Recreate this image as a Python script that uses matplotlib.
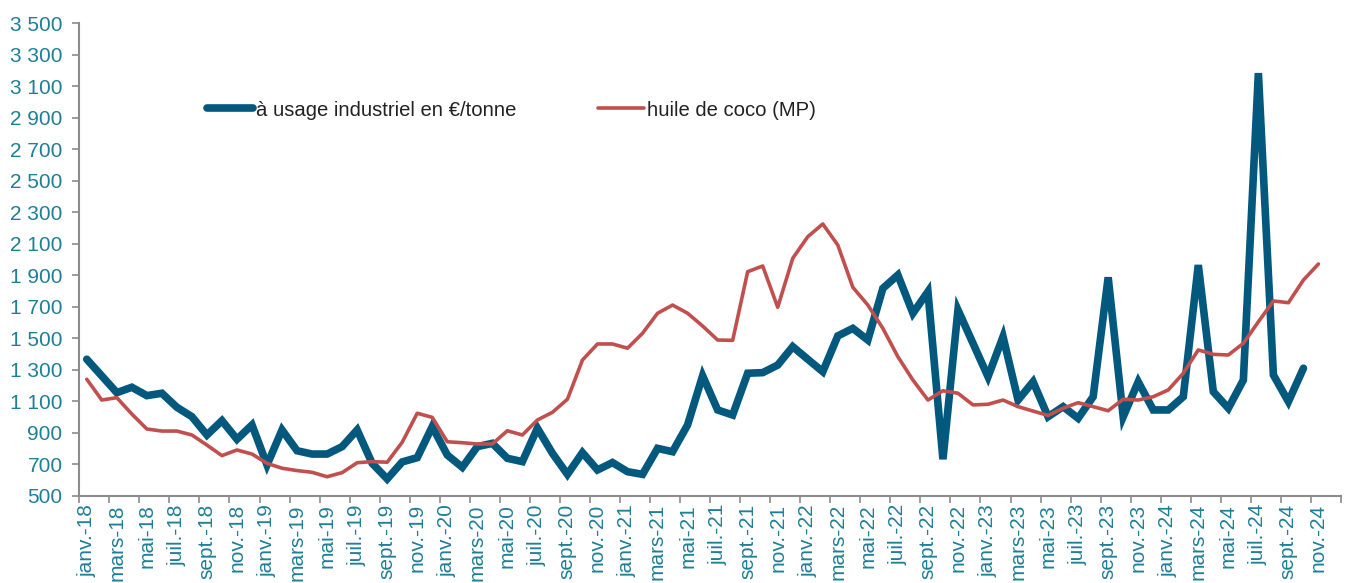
import matplotlib.pyplot as plt
import numpy as np

plt.rcParams['font.family'] = ['Liberation Sans', 'DejaVu Sans']

# mois janv.-18 -> déc.-24
mois_fr = ['janv.', 'févr.', 'mars', 'avr.', 'mai', 'juin',
           'juil.', 'août', 'sept.', 'oct.', 'nov.', 'déc.']
annees = ['18', '19', '20', '21', '22', '23', '24']
categories = [m + '-' + a for a in annees for m in mois_fr]

# à usage industriel en €/tonne (janv.-18 -> oct.-24)
industriel = [1367, 1261, 1155, 1189, 1136, 1151, 1062, 1002, 886, 977,
              859, 950, 696, 918, 786, 765, 765, 812, 918, 706,
              607, 715, 742, 939, 759, 681, 812, 833, 738, 717,
              929, 770, 636, 774, 664, 711, 653, 636, 801, 780,
              950, 1262, 1045, 1013, 1278, 1282, 1330, 1447, 1367, 1288,
              1515, 1563, 1489, 1817, 1902, 1659, 1796, 732, 1680, 1468,
              1256, 1510, 1108, 1224, 1002, 1066, 992, 1129, 1887, 1002,
              1224, 1045, 1045, 1129, 1965, 1161, 1056, 1235, 3184, 1267,
              1098, 1310]

# huile de coco (MP) (janv.-18 -> nov.-24)
coco = [1240, 1108, 1123, 1019, 924, 911, 911, 886, 822, 755,
        791, 765, 706, 675, 660, 649, 621, 647, 710, 717,
        713, 840, 1024, 998, 843, 837, 829, 829, 913, 886,
        981, 1030, 1113, 1362, 1464, 1464, 1437, 1532, 1659, 1711,
        1659, 1578, 1489, 1487, 1923, 1959, 1697, 2008, 2145, 2226,
        2092, 1824, 1711, 1563, 1383, 1235, 1108, 1167, 1151, 1077,
        1081, 1108, 1066, 1038, 1010, 1056, 1091, 1066, 1040, 1113,
        1108, 1129, 1172, 1278, 1426, 1398, 1394, 1468, 1605, 1737,
        1726, 1870, 1972]

bleu = '#03587e'
rouge = '#c0504d'
teal = '#1f7f95'
gris = '#8c8c8c'

fig = plt.figure(figsize=(13.48, 5.83), dpi=100)
ax = fig.add_axes([0.0588, 0.1496, 0.936, 0.8104])

ax.plot(np.arange(len(industriel)), industriel, color=bleu, lw=5.5,
        solid_joinstyle='miter', solid_capstyle='round',
        label='à usage industriel en €/tonne')
ax.plot(np.arange(len(coco)), coco, color=rouge, lw=2.6,
        solid_capstyle='round', label='huile de coco (MP)')

ax.set_xlim(-0.5, len(categories) - 0.5)
ax.set_ylim(500, 3500)

yt = np.arange(500, 3501, 200)
ax.set_yticks(yt)
ax.set_yticklabels(['{:,}'.format(v).replace(',', ' ') for v in yt])

pos = np.arange(0, len(categories), 2)
ax.set_xticks(pos)
ax.set_xticklabels([categories[i] for i in pos], rotation=90, va='top')
ax.set_xticks(np.arange(-0.5, len(categories), 2), minor=True)
ax.tick_params(axis='x', which='major', length=0, pad=6,
               labelsize=15, labelcolor=teal)
ax.tick_params(axis='x', which='minor', length=5, color=gris, width=1.2)
ax.tick_params(axis='y', length=5, color=gris, width=1.2, pad=7,
               labelsize=15, labelcolor=teal)

for s in ['top', 'right']:
    ax.spines[s].set_visible(False)
for s in ['left', 'bottom']:
    ax.spines[s].set_color(gris)
    ax.spines[s].set_linewidth(1.5)

leg = ax.legend(loc='center left', bbox_to_anchor=(0.0865, 0.8165), ncol=2,
                frameon=False, fontsize=14.6, handlelength=2.3,
                handletextpad=0.15, columnspacing=4.0)
for t in leg.get_texts():
    t.set_color('#222222')

fig.savefig('out.png', dpi=100)
